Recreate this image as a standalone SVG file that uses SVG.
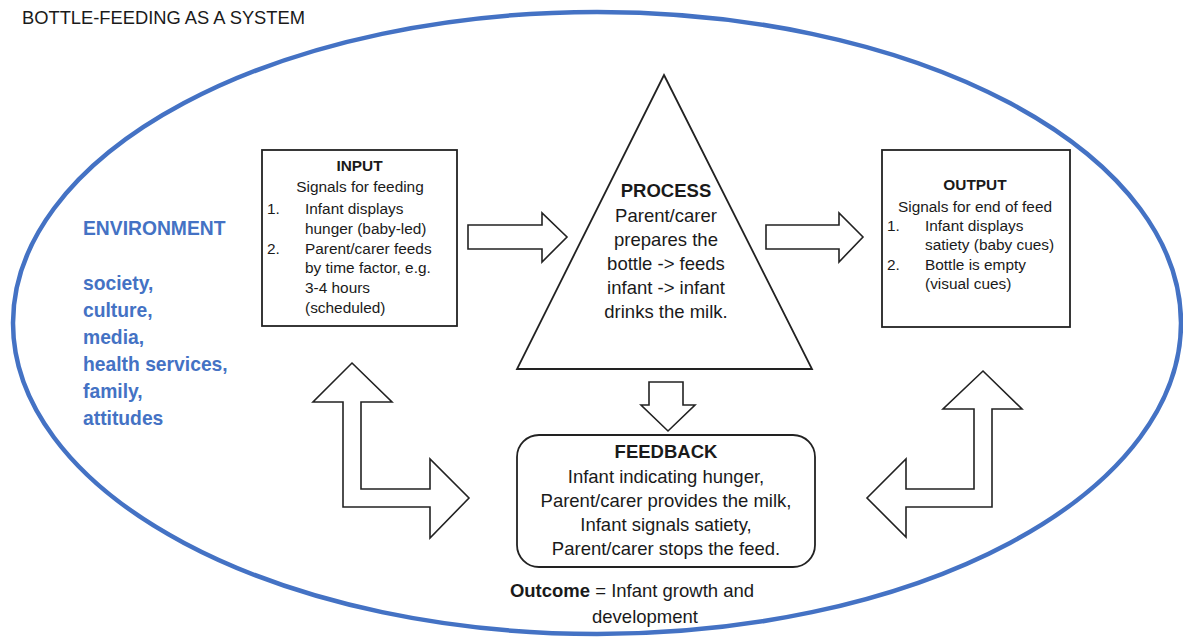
<svg xmlns="http://www.w3.org/2000/svg" width="1183" height="642" viewBox="0 0 1183 642">
<style>
text{font-family:"Liberation Sans",Arial,sans-serif;fill:#1a1a1a}
.box{fill:#fff;stroke:#222;stroke-width:1.8}
.arrow{fill:#fff;stroke:#222;stroke-width:1.6;stroke-linejoin:miter}
.sm{font-size:15.4px}
.md{font-size:18.5px}
.c{text-anchor:middle}
.b{font-weight:bold}
.env{fill:#4472C4;font-weight:bold;font-size:19.3px}
</style>
<rect width="1183" height="642" fill="#fff"/>
<g id="environment">
<ellipse cx="597" cy="323" rx="584" ry="311" fill="none" stroke="#4472C4" stroke-width="4.5"/>
<text class="env" x="83" y="235">ENVIRONMENT</text>
<text class="env" x="83" y="290">society,</text>
<text class="env" x="83" y="317">culture,</text>
<text class="env" x="83" y="344">media,</text>
<text class="env" x="83" y="371">health services,</text>
<text class="env" x="83" y="398">family,</text>
<text class="env" x="83" y="425">attitudes</text>
</g>
<text id="title" x="22" y="24" font-size="17.5" textLength="283" lengthAdjust="spacingAndGlyphs">BOTTLE-FEEDING AS A SYSTEM</text>
<g id="input">
<rect class="box" x="262" y="150" width="195" height="176"/>
<text class="sm c b" x="359.5" y="171">INPUT</text>
<text class="sm c" x="360" y="192">Signals for feeding</text>
<text class="sm" x="267" y="214">1.</text>
<text class="sm" x="305" y="214">Infant displays</text>
<text class="sm" x="305" y="234">hunger (baby-led)</text>
<text class="sm" x="267" y="254">2.</text>
<text class="sm" x="305" y="254">Parent/carer feeds</text>
<text class="sm" x="305" y="273">by time factor, e.g.</text>
<text class="sm" x="305" y="293">3-4 hours</text>
<text class="sm" x="305" y="313">(scheduled)</text>
</g>
<g id="process">
<polygon class="box" points="664,75 812,369 517,369"/>
<text class="md c b" x="666" y="197">PROCESS</text>
<text class="md c" x="666" y="222">Parent/carer</text>
<text class="md c" x="666" y="246">prepares the</text>
<text class="md c" x="666" y="270">bottle -&gt; feeds</text>
<text class="md c" x="666" y="294">infant -&gt; infant</text>
<text class="md c" x="666" y="318">drinks the milk.</text>
</g>
<g id="output">
<rect class="box" x="882" y="150" width="188" height="177"/>
<text class="sm c b" x="975" y="190">OUTPUT</text>
<text class="sm c" x="975" y="212">Signals for end of feed</text>
<text class="sm" x="887" y="231">1.</text>
<text class="sm" x="925" y="231">Infant displays</text>
<text class="sm" x="925" y="250">satiety (baby cues)</text>
<text class="sm" x="887" y="270">2.</text>
<text class="sm" x="925" y="270">Bottle is empty</text>
<text class="sm" x="925" y="289">(visual cues)</text>
</g>
<g id="feedback">
<rect class="box" x="517" y="435" width="298" height="132" rx="22" ry="22"/>
<text class="md c b" x="666" y="458">FEEDBACK</text>
<text class="md c" x="666" y="483">Infant indicating hunger,</text>
<text class="md c" x="666" y="507">Parent/carer provides the milk,</text>
<text class="md c" x="666" y="531">Infant signals satiety,</text>
<text class="md c" x="666" y="555">Parent/carer stops the feed.</text>
</g>
<g id="outcome">
<text class="md c" x="632" y="597"><tspan class="b">Outcome</tspan> = Infant growth and</text>
<text class="md c" x="645" y="623">development</text>
</g>
<g id="connectors">
<polygon class="arrow" points="468,225 542,225 542,213 567,237 542,262 542,249 468,249"/>
<polygon class="arrow" points="766,225 839,225 839,213 863,237 839,262 839,249 766,249"/>
<polygon class="arrow" points="649,382 683,382 683,405 695,405 668,431 641,405 649,405"/>
<polygon class="arrow" points="352,363 392,402 361,402 361,489 430,489 430,459 469,498 430,538 430,507 343,507 343,402 313,402"/>
<polygon class="arrow" points="983,371 1022,409 992,409 992,507 906,507 906,537 867,498 906,459 906,489 974,489 974,409 943,409"/>
</g>
</svg>
